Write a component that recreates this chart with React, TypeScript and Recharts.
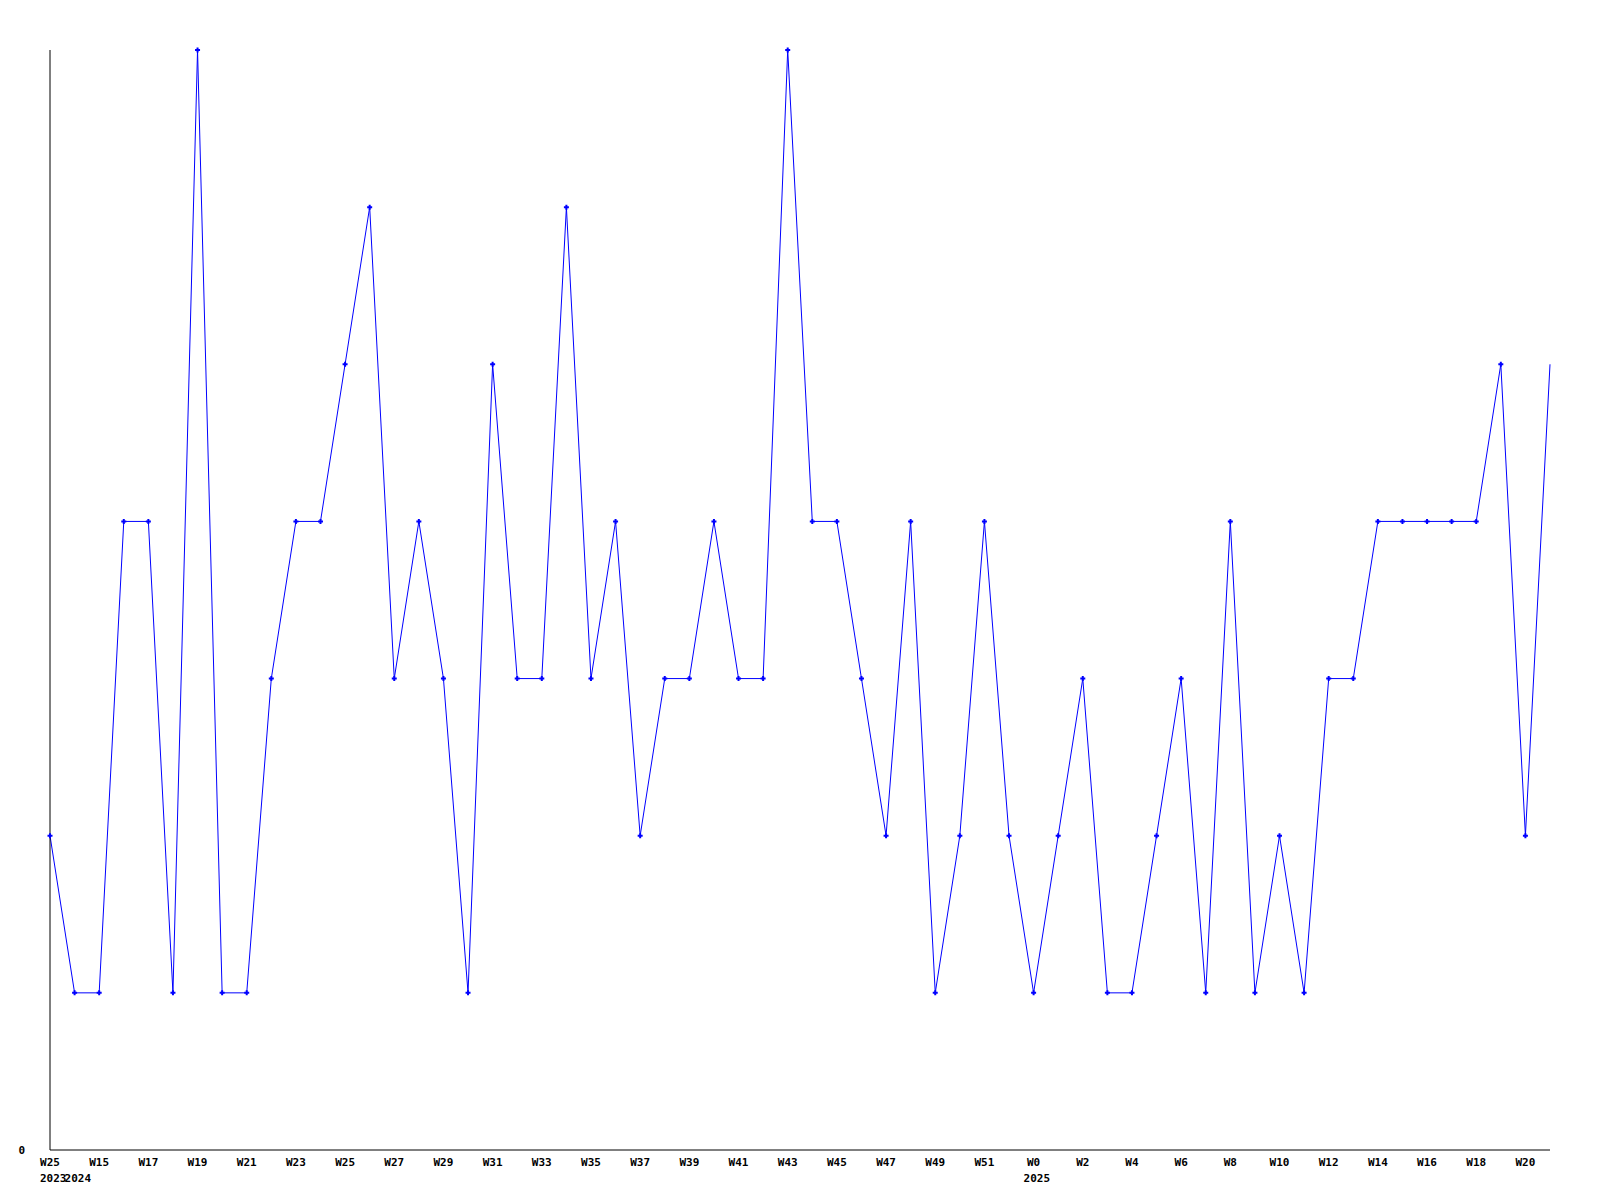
import { Line, LineChart, XAxis, YAxis } from 'recharts'

const weeks = [
  'W25', 'W14', 'W15', 'W16', 'W17', 'W18', 'W19', 'W20', 'W21', 'W22',
  'W23', 'W24', 'W25', 'W26', 'W27', 'W28', 'W29', 'W30', 'W31', 'W32',
  'W33', 'W34', 'W35', 'W36', 'W37', 'W38', 'W39', 'W40', 'W41', 'W42',
  'W43', 'W44', 'W45', 'W46', 'W47', 'W48', 'W49', 'W50', 'W51', 'W52',
  'W0', 'W1', 'W2', 'W3', 'W4', 'W5', 'W6', 'W7', 'W8', 'W9',
  'W10', 'W11', 'W12', 'W13', 'W14', 'W15', 'W16', 'W17', 'W18', 'W19',
  'W20', 'W21',
]

const years = [
  '2023', '2024', '2024', '2024', '2024', '2024', '2024', '2024', '2024', '2024',
  '2024', '2024', '2024', '2024', '2024', '2024', '2024', '2024', '2024', '2024',
  '2024', '2024', '2024', '2024', '2024', '2024', '2024', '2024', '2024', '2024',
  '2024', '2024', '2024', '2024', '2024', '2024', '2024', '2024', '2024', '2024',
  '2025', '2025', '2025', '2025', '2025', '2025', '2025', '2025', '2025', '2025',
  '2025', '2025', '2025', '2025', '2025', '2025', '2025', '2025', '2025', '2025',
  '2025', '2025',
]

const counts = [
  2, 1, 1, 4, 4, 1, 7, 1, 1, 3,
  4, 4, 5, 6, 3, 4, 3, 1, 5, 3,
  3, 6, 3, 4, 2, 3, 3, 4, 3, 3,
  7, 4, 4, 3, 2, 4, 1, 2, 4, 2,
  1, 2, 3, 1, 1, 2, 3, 1, 4, 1,
  2, 1, 3, 3, 4, 4, 4, 4, 4, 5,
  2, 5,
]

const data = counts.map((v, i) => ({ idx: i, week: weeks[i], year: years[i], value: v }))

const labelFont = {
  fontFamily: '"DejaVu Sans Mono", monospace',
  fontWeight: 'bold' as const,
  fontSize: 11,
  fill: '#000',
}

function WeekTick(props: any) {
  const { x, y, payload } = props
  const i = payload.value as number
  const showWeek = i % 2 === 0
  const showYear = i === 0 || years[i] !== years[i - 1]
  return (
    <g>
      {showWeek && (
        <text x={x} y={y + 16} textAnchor="middle" {...labelFont}>
          {weeks[i]}
        </text>
      )}
      {showYear && (
        <text x={x - 10} y={y + 32} textAnchor="start" {...labelFont}>
          {years[i]}
        </text>
      )}
    </g>
  )
}

function ZeroTick(props: any) {
  const { x, y, payload } = props
  return (
    <text x={x - 25} y={y + 4} textAnchor="end" {...labelFont}>
      {payload.value}
    </text>
  )
}

function PlusDot(props: any) {
  const { cx, cy, index } = props
  if (index === counts.length - 1) return <g key={index} />
  return (
    <path
      key={index}
      d={`M${cx - 2.5},${cy} h5 M${cx},${cy - 2.5} v5`}
      stroke="#0000ff"
      strokeWidth={2}
      fill="none"
    />
  )
}

export default function App() {
  return (
    <div style={{ position: 'absolute', left: 0, top: 0, background: '#fff' }}>
      <LineChart
        width={1600}
        height={1200}
        data={data}
        margin={{ top: 50, right: 50, left: 0, bottom: 0 }}
      >
        <XAxis
          dataKey="idx"
          type="category"
          interval={0}
          height={50}
          tickLine={false}
          tickSize={0}
          tickMargin={0}
          axisLine={{ stroke: '#000', strokeWidth: 1 }}
          tick={<WeekTick />}
        />
        <YAxis
          domain={[0, 7]}
          ticks={[0]}
          width={50}
          tickLine={false}
          tickSize={0}
          tickMargin={0}
          axisLine={{ stroke: '#000', strokeWidth: 1 }}
          tick={<ZeroTick />}
        />
        <Line
          type="linear"
          dataKey="value"
          stroke="#0000ff"
          strokeWidth={1}
          dot={<PlusDot />}
          activeDot={false}
          isAnimationActive={false}
        />
      </LineChart>
    </div>
  )
}
